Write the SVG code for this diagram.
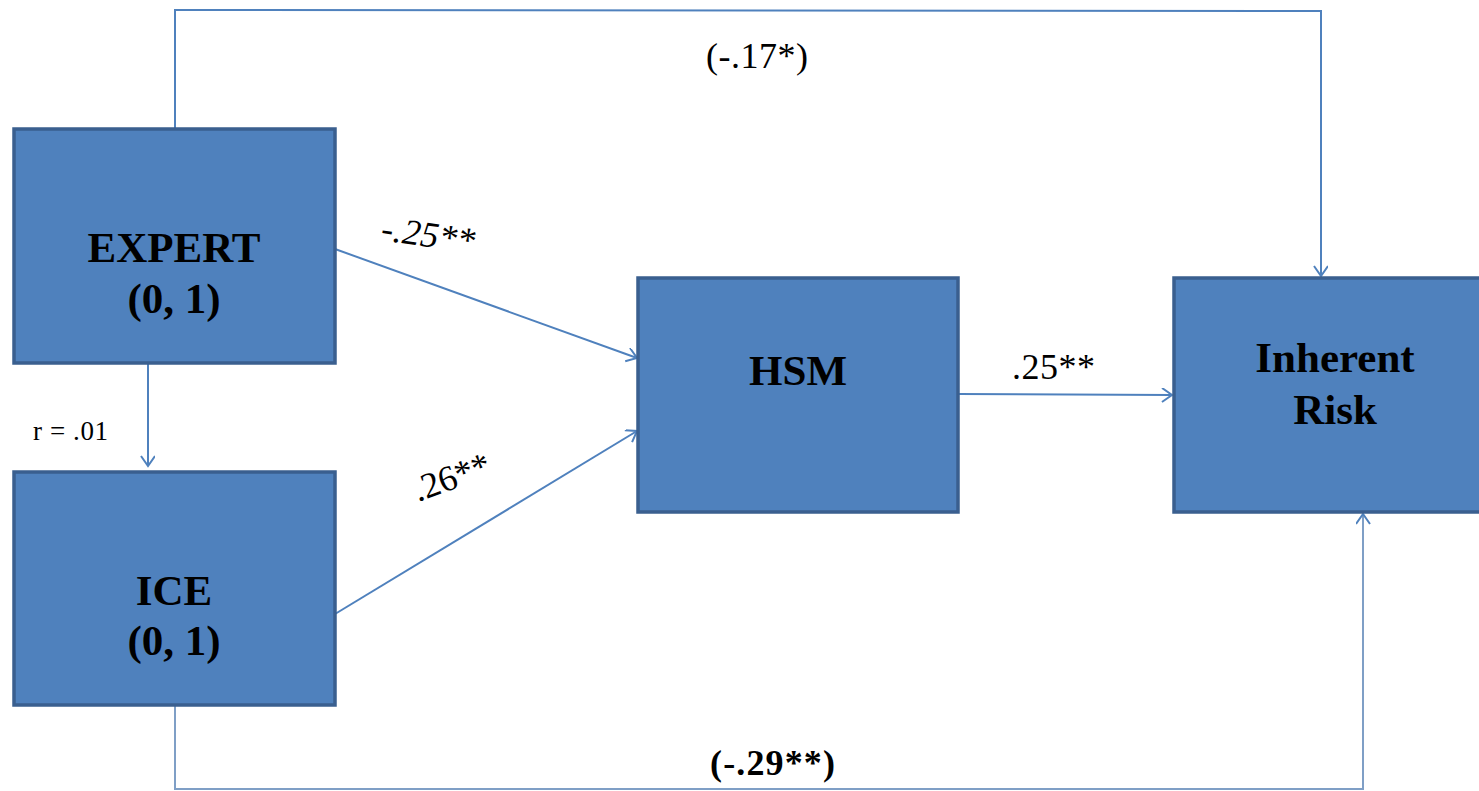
<svg xmlns="http://www.w3.org/2000/svg" width="1479" height="791" viewBox="0 0 1479 791">
<style>
.box{fill:#4F81BD;stroke:#3A5F8F;stroke-width:3.5}
.lbl{font-family:"Liberation Serif",serif;font-weight:bold;font-size:43px;fill:#000;text-anchor:middle}
.c{fill:none;stroke:#4F81BD;stroke-width:2}
.t{font-family:"Liberation Serif",serif;font-size:36px;fill:#000}
</style>
<defs>
<marker id="ah" markerWidth="20" markerHeight="20" refX="12" refY="7" orient="auto" markerUnits="userSpaceOnUse">
<polyline points="2,0 12,7 2,14" fill="none" stroke="#4F81BD" stroke-width="2"/>
</marker>
</defs>
<rect width="1479" height="791" fill="#fff"/>
<g id="connectors">
<polyline class="c" points="175,129 175,10 1321,11 1321,276" marker-end="url(#ah)"/>
<polyline class="c" points="175,705 175,789 1363,789 1363,514" marker-end="url(#ah)" style="stroke:#7F9FC6"/>
<line class="c" x1="148" y1="363" x2="148" y2="466" marker-end="url(#ah)"/>
<line class="c" x1="335" y1="249" x2="637" y2="358" marker-end="url(#ah)"/>
<line class="c" x1="335" y1="614" x2="637" y2="431" marker-end="url(#ah)"/>
<line class="c" x1="958" y1="394" x2="1172" y2="395" marker-end="url(#ah)"/>
</g>
<g id="expert">
<rect class="box" x="14" y="129" width="321" height="234"/>
<text class="lbl" x="174" y="262">EXPERT</text>
<text class="lbl" x="174" y="313">(0, 1)</text>
</g>
<g id="ice">
<rect class="box" x="14" y="472" width="321" height="233"/>
<text class="lbl" x="174" y="605">ICE</text>
<text class="lbl" x="174" y="655">(0, 1)</text>
</g>
<g id="hsm">
<rect class="box" x="638" y="278" width="320" height="234"/>
<text class="lbl" x="798" y="385">HSM</text>
</g>
<g id="inherent-risk">
<rect class="box" x="1174" y="278" width="320" height="234"/>
<text class="lbl" x="1335" y="372">Inherent</text>
<text class="lbl" x="1335" y="424">Risk</text>
</g>
<g id="labels">
<text class="t" x="706" y="68" textLength="102">(-.17*)</text>
<text class="t" x="380" y="240" transform="rotate(8 380 240)" font-style="italic" textLength="94">-.25**</text>
<text class="t" x="418" y="502" transform="rotate(-20 418 502)" textLength="80">.26**</text>
<text class="t" x="1012" y="379" textLength="83">.25**</text>
<text x="33" y="440" style="font-family:'Liberation Serif',serif;font-size:27px" textLength="75">r = .01</text>
<text class="t" x="710" y="775" font-weight="bold" textLength="125">(-.29**)</text>
</g>
</svg>
